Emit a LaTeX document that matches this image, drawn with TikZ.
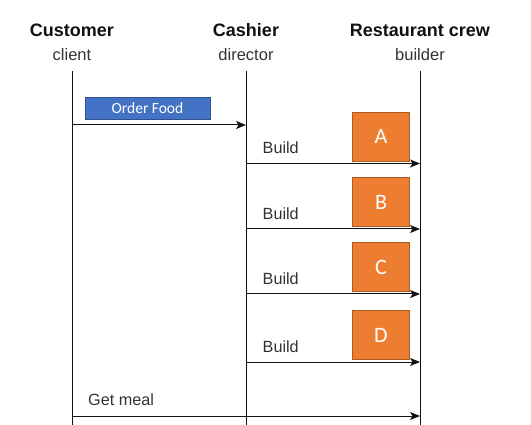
\documentclass[tikz,border=0pt]{standalone}
\usepackage{fontspec}
\setmainfont{Liberation Sans}
\newfontfamily\carlitofont{Carlito}
\usetikzlibrary{arrows.meta}
\definecolor{lineblk}{HTML}{111111}
\definecolor{subgrey}{HTML}{333333}
\definecolor{bluefill}{HTML}{4472C4}
\definecolor{blueedge}{HTML}{2F528F}
\definecolor{orfill}{HTML}{ED7D31}
\definecolor{oredge}{HTML}{AE5A21}
\tikzset{
  header/.style={anchor=base, inner sep=0pt, font=\bfseries\fontsize{18}{20}\selectfont, text=lineblk},
  role/.style={anchor=base, inner sep=0pt, font=\fontsize{16.5}{18}\selectfont, text=subgrey},
  lifeline/.style={draw=lineblk, line width=1pt},
  msg/.style={draw=lineblk, line width=1pt, -{Stealth[length=10pt,width=8pt,inset=2.5pt]}},
  msglabel/.style={anchor=base west, inner sep=0pt, font=\fontsize{16.2}{18}\selectfont, text=subgrey},
  partbox/.style={draw=oredge, fill=orfill, line width=0.8pt, minimum width=56.5pt, minimum height=49pt, inner sep=0pt, text=white, font=\carlitofont\fontsize{22}{24}\selectfont},
  orderbox/.style={draw=blueedge, fill=bluefill, line width=0.8pt, minimum width=125pt, minimum height=21.5pt, inner sep=0pt, text=white, font=\carlitofont\fontsize{15.5}{18}\selectfont}
}
\begin{document}
\begin{tikzpicture}[x=1pt,y=-1pt]
\useasboundingbox (0,0) rectangle (531,425);
% headers
\node[header] (hcust) at (72,36.5) {Customer};
\node[header] (hcash) at (246,36.5) {Cashier};
\node[header] (hcrew) at (420,36.5) {Restaurant crew};
\node[role] (rclient) at (72,61) {client};
\node[role] (rdir) at (246,61) {director};
\node[role] (rbuild) at (420,61) {builder};
% lifelines
\coordinate (ctop) at (72,71);
\coordinate (cbot) at (72,425);
\coordinate (dtop) at (246,71);
\coordinate (dbot) at (246,425);
\coordinate (btop) at (420,71);
\coordinate (bbot) at (420,425);
\draw[lifeline] (ctop) -- (cbot);
\draw[lifeline] (dtop) -- (dbot);
\draw[lifeline] (btop) -- (bbot);
% order food
\node[orderbox] (order) at (147.5,108.5) {Order Food};
\coordinate (o1) at (72,125);
\coordinate (o2) at (246,125);
\draw[msg] (o1) -- (o2);
% build messages
\foreach \ya/\lab in {163.5/A, 229/B, 294/C, 362/D}{
  \coordinate (s\lab) at (246,\ya);
  \coordinate (e\lab) at (420,\ya);
  \draw[msg] (s\lab) -- (e\lab);
  \node[msglabel] (bl\lab) at (262.5,\ya-9.5) {Build};
  \node[partbox] (box\lab) at (381,\ya-27) {\lab};
}
% get meal
\coordinate (g1) at (72,416);
\coordinate (g2) at (420,416);
\draw[msg] (g1) -- (g2);
\node[msglabel] (gm) at (88,406) {Get meal};
\end{tikzpicture}
\end{document}
